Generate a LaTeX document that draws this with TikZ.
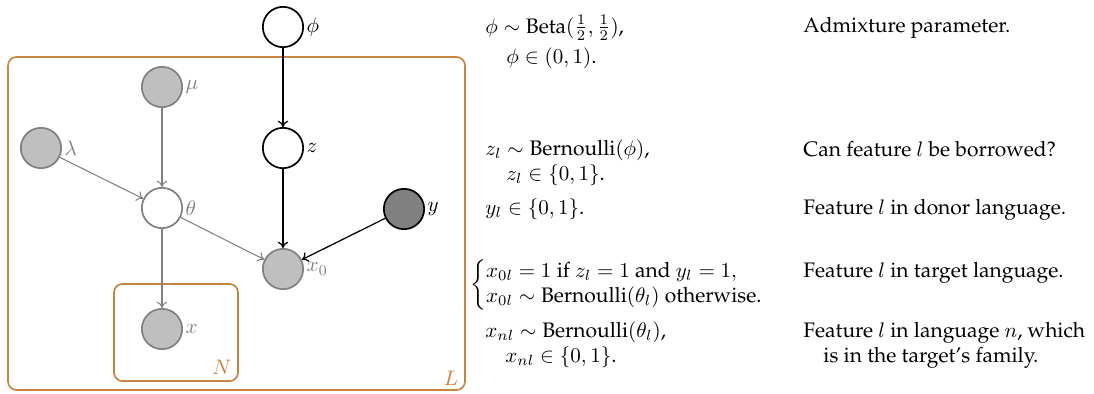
\documentclass[tikz,border=0pt]{standalone}
\usepackage[T1]{fontenc}
\renewcommand{\rmdefault}{ppl}
\usetikzlibrary{arrows.meta}
\definecolor{platec}{RGB}{198,132,64}
\definecolor{nodegray}{RGB}{191,191,191}
\definecolor{edgegray}{RGB}{128,128,128}
\definecolor{obsdark}{RGB}{128,128,128}
\begin{document}
\begin{tikzpicture}[x=0.476pt,y=-0.476pt,
  latent/.style={circle,draw=black,line width=0.8pt,fill=white,minimum size=19.2pt,inner sep=0pt},
  glatent/.style={circle,draw=edgegray,line width=0.8pt,fill=white,minimum size=19.2pt,inner sep=0pt},
  gobs/.style={circle,draw=edgegray,line width=0.8pt,fill=nodegray,minimum size=19.2pt,inner sep=0pt},
  dobs/.style={circle,draw=black,line width=0.8pt,fill=obsdark,minimum size=19.2pt,inner sep=0pt},
  blab/.style={label={[inner sep=1pt]right:#1}},
  glab/.style={label={[inner sep=1pt,text=edgegray]right:#1}},
  bedge/.style={-{To[length=3pt,width=5pt]},black,line width=0.6pt},
  gedge/.style={-{To[length=3pt,width=5pt]},edgegray,line width=0.5pt},
  platebox/.style={draw=platec,line width=0.8pt,rounded corners=4pt,inner sep=0pt},
  platelab/.style={text=platec,inner sep=0pt},
  eq/.style={anchor=base west,inner sep=0pt},
]
\useasboundingbox (0,0) rectangle (1094,393);
% plates
\node[platebox,minimum width=217.5pt,minimum height=158.5pt] (Lplate) at (236.5,223.5) {};
\node[platebox,minimum width=59pt,minimum height=46.2pt] (Nplate) at (176,332.5) {};
\node[platelab] (Llab) at (451,378) {$L$};
\node[platelab] (Nlab) at (222,367) {$N$};
% nodes
\node[latent,blab=$\phi$] (phi) at (283,27) {};
\node[gobs,glab=$\mu$] (mu) at (162,87) {};
\node[gobs,glab=$\lambda$] (lambda) at (41,148) {};
\node[latent,blab=$z$] (z) at (283,148) {};
\node[glatent,glab=$\theta$] (theta) at (162,208) {};
\node[dobs,blab=$y$] (y) at (404,209) {};
\node[gobs,glab=$x_0$] (x0) at (283,269) {};
\node[gobs,glab=$x$] (x) at (162,329) {};
% edges
\draw[bedge] (phi) -- (z);
\draw[bedge] (z) -- (x0);
\draw[bedge] (y) -- (x0);
\draw[gedge] (mu) -- (theta);
\draw[gedge] (lambda) -- (theta);
\draw[gedge] (theta) -- (x0);
\draw[gedge] (theta) -- (x);
% equations
\node[eq] (e1) at (485,33) {$\phi\sim\textrm{Beta}(\frac{1}{2},\frac{1}{2})$,};
\node[eq] (e2) at (506,63) {$\phi\in(0,1)$.};
\node[eq] (e3) at (485,155) {$z_l\sim\textrm{Bernoulli}(\phi)$,};
\node[eq] (e4) at (506,180) {$z_l\in\{0,1\}$.};
\node[eq] (e5) at (485,214) {$y_l\in\{0,1\}$.};
\node[anchor=west,inner sep=0pt] (e6) at (470,285) {$\left\{\begin{array}{@{}l@{}}
  x_{0l}=1\textrm{ if }z_l=1\textrm{ and }y_l=1,\\
  x_{0l}\sim\textrm{Bernoulli}(\theta_l)\textrm{ otherwise.}
  \end{array}\right.$};
\node[eq] (e7) at (485,337) {$x_{nl}\sim\textrm{Bernoulli}(\theta_l)$,};
\node[eq] (e8) at (505,362) {$x_{nl}\in\{0,1\}$.};
% descriptions
\node[eq] (d1) at (803,32) {Admixture parameter.};
\node[eq] (d2) at (803,156) {Can feature $l$ be borrowed?};
\node[eq] (d3) at (803,214) {Feature $l$ in donor language.};
\node[eq] (d4) at (803,277) {Feature $l$ in target language.};
\node[eq] (d5) at (803,337) {Feature $l$ in language $n$, which};
\node[eq] (d6) at (823,362) {is in the target's family.};
\end{tikzpicture}
\end{document}
